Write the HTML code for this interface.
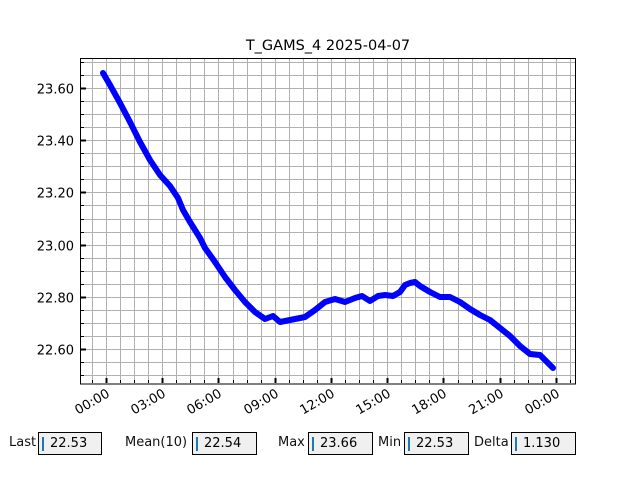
<!DOCTYPE html>
<html><head><style>
body{margin:0;width:640px;height:480px;background:#fff;font-family:"DejaVu Sans","Liberation Sans",sans-serif;overflow:hidden}
.l{position:absolute;top:435px;font-size:13px;color:#111}
.b{position:absolute;top:432px;height:23px;background:#f0f0f0;border:1px solid #000;box-sizing:border-box;font-size:13px;line-height:21px;padding-left:11px}
.b:before{content:"";position:absolute;left:3px;top:4px;width:2px;height:14px;background:#1f77b4}
</style></head><body>
<svg width="640" height="480" style="position:absolute;left:0;top:0" font-family="DejaVu Sans, Liberation Sans, sans-serif">
<defs><pattern id="g" x="80" y="10" width="14.06" height="13" patternUnits="userSpaceOnUse"></pattern></defs>
<g stroke="#b0b0b0" stroke-width="1">
<script>/*none*/</script>
</g>
<g id="grid" stroke="#b0b0b0" stroke-width="1"></g>
<text x="328" y="50" font-size="14.5" text-anchor="middle">T_GAMS_4 2025-04-07</text>
<polyline fill="none" stroke="#0000ff" stroke-width="6" stroke-linecap="round" stroke-linejoin="round" points="103,73 110,85 120,103 130,122 140,142 150,160 160,175 170,186 178,198 183,210 190,222 200,238 205,248 215,262 225,277 235,290 245,302 255,312 265,319 273,316 280,322 290,320 300,318 305,317 315,310 325,302 335,299 345,302 355,298 362,296 370,301 378,296 385,295 393,296 400,292 405,285 410,283 415,282 420,286 430,292 440,297 450,297 460,302 470,309 480,315 490,320 500,328 510,336 520,346 530,354 540,355 545,360 553,368"/>
<rect x="80.5" y="58.5" width="495" height="325.5" fill="none" stroke="#000" stroke-width="1"/>
<g id="ticks"></g>
</svg>
<div class="l" style="left:9px">Last</div><div class="b" style="left:38px;width:64px">22.53</div>
<div class="l" style="left:125px">Mean(10)</div><div class="b" style="left:192px;width:65px">22.54</div>
<div class="l" style="left:278px">Max</div><div class="b" style="left:308px;width:65px">23.66</div>
<div class="l" style="left:378px">Min</div><div class="b" style="left:404px;width:65px">22.53</div>
<div class="l" style="left:474px">Delta</div><div class="b" style="left:511px;width:65px">1.130</div>
<script>
var ns="http://www.w3.org/2000/svg",g=document.getElementById("grid"),t=document.getElementById("ticks");
function L(p,x1,y1,x2,y2,c,w){var e=document.createElementNS(ns,"line");e.setAttribute("x1",x1);e.setAttribute("y1",y1);e.setAttribute("x2",x2);e.setAttribute("y2",y2);e.setAttribute("stroke",c);e.setAttribute("stroke-width",w);p.appendChild(e);}
function T(s,x,y,a,r){var e=document.createElementNS(ns,"text");e.setAttribute("x",x);e.setAttribute("y",y);e.setAttribute("font-size","13");e.setAttribute("text-anchor",a);if(r)e.setAttribute("transform",r);e.textContent=s;t.appendChild(e);}
for(var i=-2;i<25;i++){var v=23.6-i*0.05,y=88+i*13.05;if(y<59||y>383)continue;y=Math.round(y)+.5;L(g,81,y,575,y,"#b0b0b0",1);
 var maj=(i%4==0);L(t,81,y,maj?86:84,y,"#000",maj?2:1);if(maj)T(v.toFixed(2),74,y+5,"end");}
var labs=["00:00","03:00","06:00","09:00","12:00","15:00","18:00","21:00","00:00"];
for(var k=-2;k<40;k++){var x=106+k*14.06;if(x<81||x>575)continue;var xx=Math.round(x)+.5;L(g,xx,59,xx,383,"#b0b0b0",1);
 var maj=(k%4==0);L(t,xx,383,xx,maj?378:380,"#000",maj?2:1);if(maj&&k/4<9)T(labs[k/4],xx+4,396,"end","rotate(-30 "+(xx+4)+" 396)");}
</script>
</body></html>
